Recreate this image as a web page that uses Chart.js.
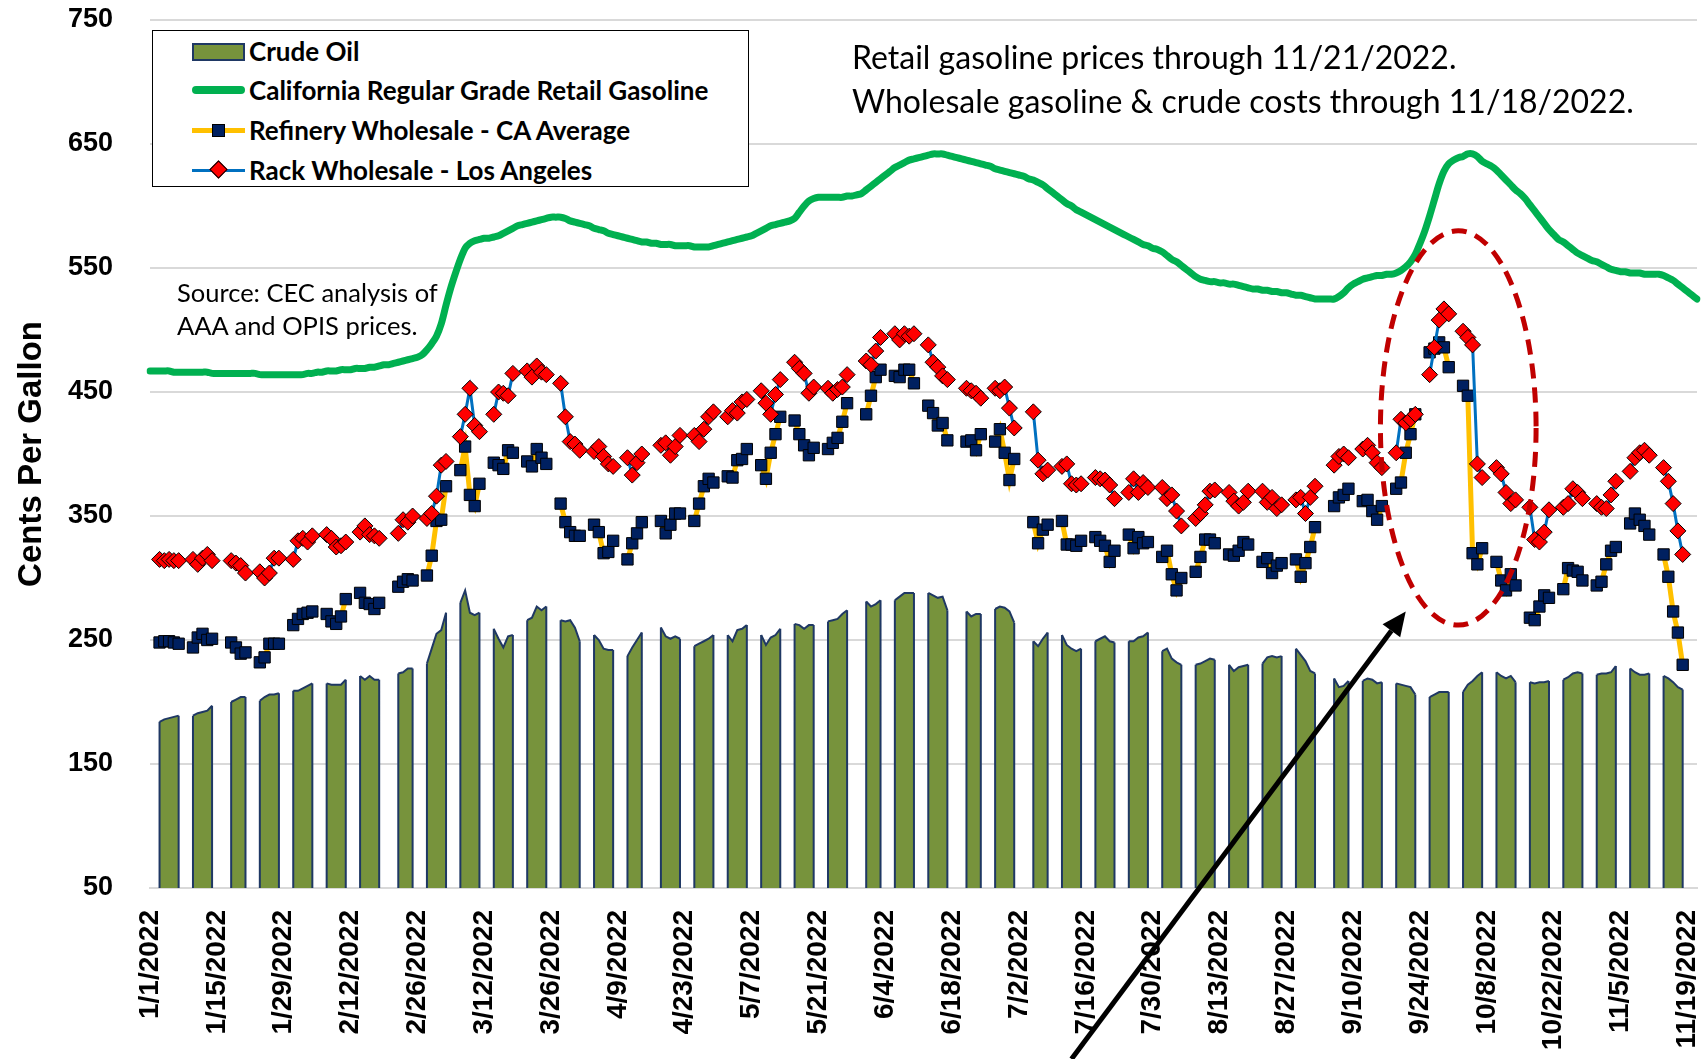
<!DOCTYPE html>
<html>
<head>
<meta charset="utf-8">
<title>California Gasoline and Crude Prices 2022</title>
<script src="https://cdn.jsdelivr.net/npm/chart.js@4.4.0/dist/chart.umd.min.js"></script>
<style>
  body { margin: 0; background: #fff; }
  #wrap { position: relative; width: 1706px; height: 1059px; overflow: hidden; }
  #chart { position: absolute; left: 0; top: 0; }
  .note { position: absolute; font-family: Lato, 'Open Sans', sans-serif; color: #000; white-space: nowrap; line-height: 1; }
  #legend { position: absolute; left: 152px; top: 30px; width: 595px; height: 155px; border: 1.5px solid #000; background: #fff;
            font-family: Lato, sans-serif; font-weight: bold; font-size: 26px; color: #000; }
  .row { position: absolute; left: 0; height: 30px; display: flex; align-items: center; white-space: nowrap; }
  .sym { position: relative; width: 53px; height: 30px; margin-left: 39px; margin-right: 4px; flex: none; }
  .sym .box { position: absolute; left: 0; top: 7px; width: 49px; height: 14px; background: #77933C; border: 2px solid #1F3864; }
  .sym .line { position: absolute; left: 0; width: 53px; }
  .sym .sq { position: absolute; left: 20px; top: 9px; width: 11px; height: 11px; background: #002060; border: 1px solid #000; }
  .sym .dia { position: absolute; left: 20px; top: 8px; width: 11px; height: 11px; background: #FF0000; border: 1px solid #000; transform: rotate(45deg); }
</style>
</head>
<body>
<div id="wrap">
  <canvas id="chart" width="1706" height="1059"></canvas>

  <div id="legend">
    <div class="row" style="top:5px"><div class="sym"><div class="box"></div></div>Crude Oil</div>
    <div class="row" style="top:44px"><div class="sym"><div class="line" style="top:11px;height:8px;border-radius:4px;background:#00B050"></div></div>California Regular Grade Retail Gasoline</div>
    <div class="row" style="top:84px"><div class="sym"><div class="line" style="top:13px;height:5px;background:#FFC000"></div><div class="sq"></div></div>Refinery Wholesale - CA Average</div>
    <div class="row" style="top:124px"><div class="sym"><div class="line" style="top:14px;height:3px;background:#0070C0"></div><div class="dia"></div></div>Rack Wholesale - Los Angeles</div>
  </div>

  <div class="note" style="left:852px; top:41px; font-size:32px;">Retail gasoline prices through 11/21/2022.</div>
  <div class="note" style="left:852px; top:85px; font-size:32px;">Wholesale gasoline &amp; crude costs through 11/18/2022.</div>
  <div class="note" style="left:177px; top:280px; font-size:25.5px;">Source: CEC analysis of</div>
  <div class="note" style="left:177px; top:313px; font-size:25.5px;">AAA and OPIS prices.</div>
</div>

<script>
// Daily retail price (cents/gal), 1/1/2022 - 11/21/2022
const retailJan = [467,467,467,467,467,466,466,466,466,466, 466,466,466,465,465,465,465,465,465,465, 465,465,465,464,464,464,464,464,464,464, 464];
const retailFeb = [464,464,465,465,466,466,467,467,467,468, 468,468,469,469,469,470,470,471,472,472, 473,474,475,476,477,478,480,484];
const retailMar = [489,495,505,520,534,546,557,566,570,572, 573,574,574,575,576,578,580,582,584,585, 586,587,588,589,590,591,591,591,590,588, 587];
const retailApr = [586,585,584,582,581,580,578,577,576,575, 574,573,572,571,571,570,570,569,569,569, 568,568,568,568,567,567,567,567,568,569];
const retailMay = [570,571,572,573,574,575,576,578,580,582, 584,585,586,587,588,590,595,600,604,606, 607,607,607,607,607,607,608,608,609,610, 613];
const retailJun = [616,619,622,625,628,631,633,635,637,638, 639,640,641,642,642,642,641,640,639,638, 637,636,635,634,633,632,630,629,628,627];
const retailJul = [626,625,624,622,621,619,617,614,611,608, 605,602,600,597,595,593,591,589,587,585, 583,581,579,577,575,573,571,569,568,566, 565];
const retailAug = [563,560,557,555,552,549,546,543,541,540, 539,539,538,538,537,537,536,535,534,533, 533,532,532,531,531,530,530,529,528,528, 527];
const retailSep = [526,525,525,525,525,525,527,530,534,537, 539,541,542,543,544,544,545,545,546,548, 551,555,561,570,580,592,605,618,628,634];
const retailOct = [637,639,640,642,642,640,636,634,632,629, 625,621,617,613,610,606,601,596,591,586, 581,577,573,571,568,565,562,560,558,556, 555];
const retailNov = [553,551,549,548,547,547,546,546,546,545, 545,545,545,544,542,540,537,534,531,528, 525];

// Weekday values, one row per week starting Monday 1/3/2022 (null = market holiday)
const crudeWeeks = [
  [184,186,187,188,189], [189,191,192,193,197], [null,200,202,204,204], [201,204,206,206,207],
  [209,209,211,213,215], [215,214,214,214,218], [221,218,221,218,218], [null,223,224,227,227],
  [231,243,255,258,272], [280,290,272,270,272], [259,251,244,253,254], [266,268,277,274,277],
  [266,265,266,260,249], [254,250,243,242,242], [237,244,250,256,null], [260,253,251,253,251],
  [245,247,249,251,254], [254,249,258,259,262], [254,246,252,254,259], [263,262,259,262,262],
  [265,266,267,271,274], [null,281,277,279,282], [282,285,288,288,288], [288,286,284,285,274],
  [null,273,269,271,271], [275,277,276,273,264], [null,249,245,251,256], [254,246,243,241,243],
  [249,251,253,249,248], [249,249,252,253,256], [241,243,235,232,230], [230,231,233,235,234],
  [230,225,228,229,230], [231,236,237,236,237], [243,238,233,225,223], [null,219,212,213,217],
  [217,219,218,215,216], [215,214,213,212,206], [204,206,208,208,208], [208,214,217,221,224],
  [224,221,219,221,216], [216,215,216,216,217], [218,220,223,224,223], [222,223,223,224,229],
  [227,224,222,222,223], [221,219,216,212,210]
];
const refineryWeeks = [
  [248,249,249,248,247], [244,252,255,250,251], [null,248,244,239,240], [232,236,247,247,247],
  [262,267,271,272,273], [271,265,263,269,283], [288,280,279,275,280], [null,293,297,299,298],
  [302,318,346,347,374], [387,406,367,358,376], [393,391,388,403,401], [394,390,404,397,392],
  [360,345,337,334,334], [343,337,320,321,330], [315,328,336,345,null], [346,336,343,352,352],
  [346,360,374,380,377], [382,381,395,396,404], [391,380,401,416,430], [427,416,407,399,405],
  [404,409,413,426,441], [null,432,447,462,468], [463,462,468,468,457], [439,433,423,425,411],
  [null,410,411,403,416], [410,420,401,379,396], [null,345,328,339,343], [346,327,327,326,330],
  [333,330,326,313,322], [335,324,333,328,329], [317,322,303,290,300], [305,317,331,331,328],
  [319,318,322,329,327], [313,316,304,310,312], [315,301,312,325,341], [null,358,365,367,372],
  [362,363,354,347,358], [372,377,401,416,432], [482,485,490,486,470], [455,447,320,311,324],
  [313,298,290,303,294], [268,266,277,286,284], [291,308,306,305,298], [294,297,311,322,325],
  [344,352,347,342,335], [319,301,273,256,230]
];
const rackWeeks = [
  [315,314,315,314,314], [315,311,316,319,314], [null,314,312,310,304], [305,300,304,316,316],
  [315,330,332,329,334], [335,332,325,326,329], [337,342,335,334,332], [null,336,347,345,350],
  [348,352,366,391,394], [414,432,453,423,418], [432,450,449,447,465], [467,462,471,466,464],
  [457,430,410,408,403], [402,406,398,392,390], [397,383,393,400,null], [407,409,399,406,415],
  [415,410,420,430,434], [430,435,433,442,444], [451,441,432,448,460], [474,469,465,449,454],
  [453,449,452,454,464], [null,475,472,483,494], [497,492,497,495,497], [488,474,470,463,460],
  [null,453,451,449,445], [453,451,454,437,421], [null,434,395,384,387], [390,392,376,375,376],
  [381,380,379,375,364], [369,380,369,377,373], [373,364,367,354,342], [348,352,359,370,371],
  [369,362,358,361,370], [370,361,365,356,359], [363,365,352,365,374], [null,391,398,400,397],
  [404,407,401,393,389], [401,428,425,428,432], [464,486,508,517,513], [499,494,488,392,381],
  [389,384,369,360,363], [357,331,329,337,355], [357,360,372,369,364], [360,357,356,367,378],
  [386,397,401,403,399], [389,378,360,338,319]
];

const yTicks = [50, 150, 250, 350, 450, 550, 650, 750];

// callout positions (day index from 1/1, cents)
const ellipseAt = { day: 274, value: 421, days: 16.3, cents: 159 };
const arrowHead = { day: 263, value: 273 };
const arrowTailDay = 193;

const retail = [].concat(retailJan, retailFeb, retailMar, retailApr, retailMay, retailJun,
  retailJul, retailAug, retailSep, retailOct, retailNov);
const DAYS = retail.length;

const dayLabels = [];
for (let i = 0; i < DAYS; i++) {
  const d = new Date(2022, 0, 1 + i);
  dayLabels.push(`${d.getMonth() + 1}/${d.getDate()}/${d.getFullYear()}`);
}

// spread Mon-Fri rows onto the daily axis; weekends stay empty
function weekdaySeries(weeks) {
  const out = new Array(DAYS).fill(null);
  weeks.forEach((week, k) => {
    week.forEach((v, j) => { out[2 + 7 * k + j] = v; });
  });
  return out;
}

const CRUDE_INDEX = 3;

const callouts = {
  id: 'callouts',
  // navy side edges on each crude block, like the area chart in the original
  afterDatasetDraw(chart, args) {
    if (args.index !== CRUDE_INDEX) return;
    const { ctx, chartArea } = chart;
    const pts = args.meta.data;
    const vals = chart.data.datasets[CRUDE_INDEX].data;
    ctx.save();
    ctx.strokeStyle = '#1F3864';
    ctx.lineWidth = 2;
    ctx.beginPath();
    for (let i = 0; i < vals.length; i++) {
      if (vals[i] === null) continue;
      const startRun = i === 0 || vals[i - 1] === null;
      const endRun = i === vals.length - 1 || vals[i + 1] === null;
      if (startRun || endRun) {
        ctx.moveTo(pts[i].x, pts[i].y);
        ctx.lineTo(pts[i].x, chartArea.bottom);
      }
    }
    ctx.stroke();
    ctx.restore();
  },
  afterDraw(chart) {
    const { ctx, scales: { x, y } } = chart;
    ctx.save();

    const cx = x.getPixelForValue(ellipseAt.day);
    const cy = y.getPixelForValue(ellipseAt.value);
    const rx = x.getPixelForValue(ellipseAt.day + ellipseAt.days) - cx;
    const ry = y.getPixelForValue(ellipseAt.value - ellipseAt.cents) - cy;
    ctx.beginPath();
    ctx.ellipse(cx, cy, rx, ry, 0, 0, Math.PI * 2);
    ctx.setLineDash([15, 9]);
    ctx.lineWidth = 5;
    ctx.strokeStyle = '#C00000';
    ctx.stroke();

    const hx = x.getPixelForValue(arrowHead.day);
    const hy = y.getPixelForValue(arrowHead.value);
    const tx = x.getPixelForValue(arrowTailDay);
    const ty = chart.height;
    const ang = Math.atan2(hy - ty, hx - tx);
    const headLen = 24, headW = 11;
    const bx = hx - headLen * Math.cos(ang), by = hy - headLen * Math.sin(ang);
    ctx.setLineDash([]);
    ctx.strokeStyle = '#000';
    ctx.lineWidth = 5;
    ctx.beginPath();
    ctx.moveTo(tx, ty);
    ctx.lineTo(bx, by);
    ctx.stroke();
    ctx.fillStyle = '#000';
    ctx.beginPath();
    ctx.moveTo(hx, hy);
    ctx.lineTo(bx + headW * Math.sin(ang), by - headW * Math.cos(ang));
    ctx.lineTo(bx - headW * Math.sin(ang), by + headW * Math.cos(ang));
    ctx.closePath();
    ctx.fill();

    ctx.restore();
  }
};

const ctx = document.getElementById('chart').getContext('2d');
new Chart(ctx, {
  type: 'line',
  data: {
    labels: dayLabels,
    datasets: [
      {
        label: 'Rack Wholesale - Los Angeles',
        data: weekdaySeries(rackWeeks),
        borderColor: '#0070C0',
        borderWidth: 3,
        pointStyle: 'rectRot',
        pointRadius: 8,
        pointBackgroundColor: '#FF0000',
        pointBorderColor: '#000',
        pointBorderWidth: 1,
        spanGaps: false,
        order: 1
      },
      {
        label: 'Refinery Wholesale - CA Average',
        data: weekdaySeries(refineryWeeks),
        borderColor: '#FFC000',
        borderWidth: 5,
        pointStyle: 'rect',
        pointRadius: 8,
        pointBackgroundColor: '#002060',
        pointBorderColor: '#000',
        pointBorderWidth: 1,
        spanGaps: false,
        order: 2
      },
      {
        label: 'California Regular Grade Retail Gasoline',
        data: retail,
        borderColor: '#00B050',
        borderWidth: 7,
        borderCapStyle: 'round',
        borderJoinStyle: 'round',
        pointRadius: 0,
        tension: 0.3,
        order: 3
      },
      {
        label: 'Crude Oil',
        data: weekdaySeries(crudeWeeks),
        borderColor: '#1F3864',
        borderWidth: 2,
        backgroundColor: '#77933C',
        fill: 'start',
        pointRadius: 0,
        spanGaps: false,
        order: 4
      }
    ]
  },
  options: {
    responsive: false,
    animation: false,
    layout: { padding: { top: 20, right: 9, left: 0, bottom: 0 } },
    plugins: {
      legend: { display: false },
      tooltip: { enabled: false }
    },
    scales: {
      x: {
        ticks: {
          autoSkip: false,
          minRotation: 90,
          maxRotation: 90,
          padding: 22,
          color: '#000',
          font: { family: "'Liberation Sans', Arial, sans-serif", weight: 'bold', size: 28 },
          callback: (v, i) => (i % 14 === 0 ? dayLabels[i] : '')
        },
        grid: { display: false, drawTicks: false },
        border: { display: true, color: '#d9d9d9', width: 2 },
        afterFit: (s) => { s.height = 171; s.paddingLeft = 0; s.paddingRight = 0; }
      },
      y: {
        min: 50,
        max: 750,
        afterBuildTicks: (s) => { s.ticks = yTicks.map(v => ({ value: v })); },
        ticks: {
          padding: 37,
          color: '#000',
          font: { family: "'Liberation Sans Narrow', 'Liberation Sans', sans-serif", weight: 'bold', size: 27 }
        },
        grid: { color: '#d9d9d9', lineWidth: 2, drawTicks: false },
        border: { display: false },
        title: {
          display: true,
          text: 'Cents Per Gallon',
          color: '#000',
          font: { family: "'Liberation Sans', Arial, sans-serif", weight: 'bold', size: 33 },
          padding: { top: 12, bottom: 0 }
        },
        afterFit: (s) => { s.width = 150; s.paddingTop = 10; s.paddingBottom = 10; }
      }
    }
  },
  plugins: [callouts]
});
</script>
</body>
</html>
